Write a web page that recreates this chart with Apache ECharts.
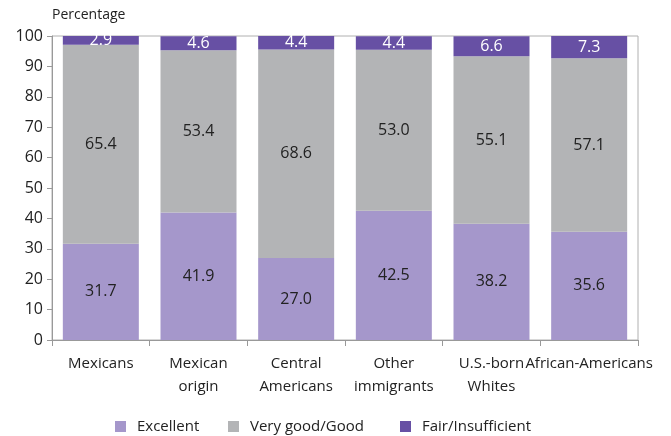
<!DOCTYPE html>
<html><head><meta charset="utf-8">
<script src="https://cdn.jsdelivr.net/npm/echarts@6/dist/echarts.min.js"></script>
<style>html,body{margin:0;padding:0;background:#fff}#c{width:671px;height:436px}</style>
</head><body><div id="c"></div>
<script>
var categories = ["Mexicans", "Mexican\norigin", "Central\nAmericans", "Other\nimmigrants", "U.S.-born\nWhites", "African-Americans"];
var excellent = [31.7, 41.9, 27.0, 42.5, 38.2, 35.6];
var veryGood = [65.4, 53.4, 68.6, 53.0, 55.1, 57.1];
var fair = [2.9, 4.6, 4.4, 4.4, 6.6, 7.3];
var seriesNames = ["Excellent", "Very good/Good", "Fair/Insufficient"];
var FONT = "Open Sans";
var legendLeft = [115, 228, 400];
var chart = echarts.init(document.getElementById('c'));
function lbl(color) {
  return {show: true, position: 'inside', color: color, fontFamily: FONT, fontSize: 16,
    formatter: function (p) { return p.value.toFixed(1); }};
}
chart.setOption({
  animation: false,
  textStyle: {fontFamily: FONT},
  grid: {left: 52, right: 33, top: 36, bottom: 96, show: true, borderColor: '#b0b0b0', borderWidth: 1},
  graphic: [{type: 'text', left: 52, top: 8, style: {text: 'Percentage', font: '14px "Open Sans"', fill: '#222'}}],
  legend: seriesNames.map(function (n, i) {
    return {bottom: 2, left: legendLeft[i], padding: 0, itemWidth: 11, itemHeight: 11, icon: 'rect',
      textStyle: {fontFamily: FONT, fontSize: 15, color: '#222', padding: [0, 0, 0, 6]}, data: [n]};
  }),
  xAxis: {type: 'category', data: categories,
    axisLine: {lineStyle: {color: '#999'}}, axisTick: {show: true, length: 6, lineStyle: {color: '#999'}},
    axisLabel: {color: '#222', fontSize: 15, fontFamily: FONT, margin: 12, lineHeight: 23, interval: 0}},
  yAxis: {type: 'value', min: 0, max: 100, interval: 10,
    axisLine: {show: true, lineStyle: {color: '#999'}}, axisTick: {show: true, length: 5, lineStyle: {color: '#999'}},
    splitLine: {show: false},
    axisLabel: {color: '#222', fontSize: 16, fontFamily: FONT, margin: 9}},
  series: [
    {name: seriesNames[0], type: 'bar', stack: 's', data: excellent, barWidth: 76, itemStyle: {color: '#a597cb'}, label: lbl('#222')},
    {name: seriesNames[1], type: 'bar', stack: 's', data: veryGood, itemStyle: {color: '#b3b4b6'}, label: lbl('#222')},
    {name: seriesNames[2], type: 'bar', stack: 's', data: fair, itemStyle: {color: '#6750a4'}, label: lbl('#fff')}
  ]
});
</script></body></html>
